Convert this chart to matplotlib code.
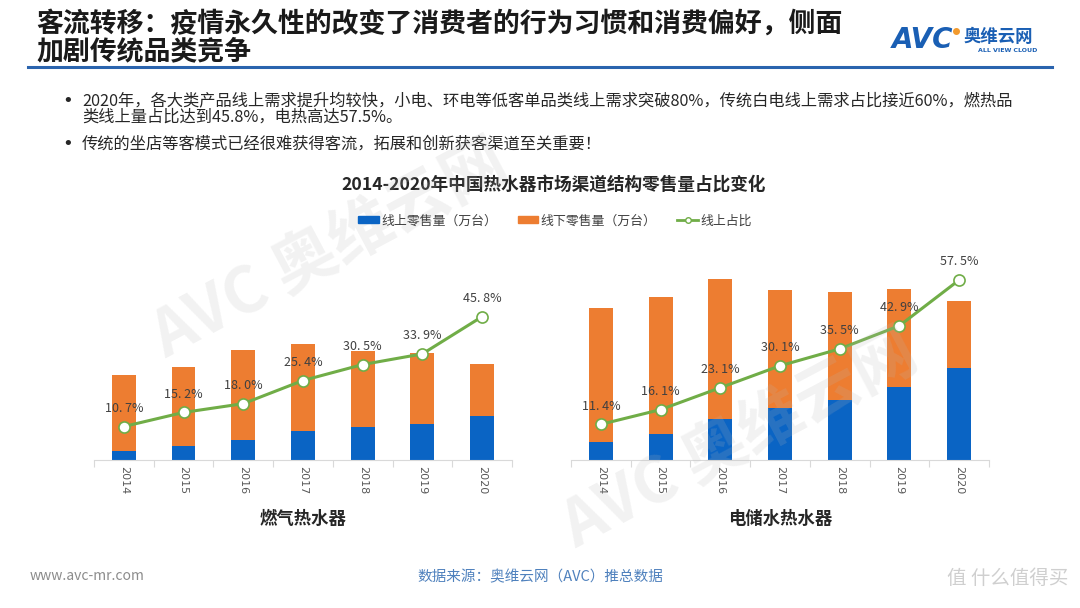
import matplotlib.pyplot as plt
from matplotlib.patches import Patch
from matplotlib.lines import Line2D

plt.rcParams['font.family'] = ['Noto Sans CJK SC', 'DejaVu Sans']

years = ['2014', '2015', '2016', '2017', '2018', '2019', '2020']

# 燃气热水器 (万台)
gas_online = [126, 196, 280, 406, 462, 504, 616]
gas_offline = [1064, 1106, 1260, 1218, 1064, 994, 728]
gas_share = [10.7, 15.2, 18.0, 25.4, 30.5, 33.9, 45.8]

# 电储水热水器
elec_online = [252, 364, 574, 728, 840, 1022, 1288]
elec_offline = [1876, 1918, 1960, 1652, 1512, 1372, 938]
elec_share = [11.4, 16.1, 23.1, 30.1, 35.5, 42.9, 57.5]

BLUE = '#0a64c4'
ORANGE = '#ed7d31'
GREEN = '#70ad47'

fig = plt.figure(figsize=(10.8, 6.08), dpi=100)


def px(x, y):
    return x / 1080, 1 - y / 608


def draw_panel(left, online, offline, share, name):
    ax = fig.add_axes([left, 0.2434, 0.3870, 0.5148])
    ax.set_facecolor('none')
    x = list(range(len(years)))
    ax.bar(x, online, width=0.4, color=BLUE, zorder=2)
    ax.bar(x, offline, width=0.4, bottom=online, color=ORANGE, zorder=2)
    ax.set_xlim(-0.5, 6.5)
    ax.set_ylim(0, 4382)
    for s in ['top', 'left', 'right']:
        ax.spines[s].set_visible(False)
    ax.spines['bottom'].set_color('#d9d9d9')
    ax.set_yticks([])
    ax.set_xticks([i - 0.5 for i in range(8)], minor=False)
    ax.set_xticklabels([])
    ax.tick_params(axis='x', which='major', length=5, color='#d9d9d9')
    for i, yr in enumerate(years):
        ax.text(i, -0.02, yr, transform=ax.get_xaxis_transform(), rotation=-90,
                ha='center', va='top', fontsize=8, color='#595959', family='DejaVu Sans')

    ax2 = ax.twinx()
    ax2.set_ylim(0, 100)
    ax2.axis('off')
    ax2.plot(x, share, color=GREEN, lw=2.2, marker='o', ms=8,
             markerfacecolor='white', markeredgecolor=GREEN, markeredgewidth=1.2, zorder=3)
    for i, v in enumerate(share):
        ax2.annotate(f'{v:.1f}%'.replace('.', '. '), (i, v), xytext=(0, 13),
                     textcoords='offset points', ha='center', va='center',
                     fontsize=9, color='#404040')
    ax.text(0.5, -0.19, name, transform=ax.transAxes, ha='center', va='center',
            fontsize=12.5, fontweight='bold', color='#262626')
    return ax


draw_panel(0.0870, gas_online, gas_offline, gas_share, '燃气热水器')
draw_panel(0.5287, elec_online, elec_offline, elec_share, '电储水热水器')

# faint watermarks laid over the whole slide
for (wx, wy) in [(330, 250), (740, 440)]:
    fig.text(*px(wx, wy), 'AVC 奥维云网', fontsize=46, fontweight='bold', color='#b8b8b8',
             alpha=0.18, rotation=28, ha='center', va='center', zorder=5)

# title
fig.text(*px(36, 24), '客流转移：疫情永久性的改变了消费者的行为习惯和消费偏好，侧面',
         fontsize=19.4, fontweight='bold', color='#1a1a1a', va='center')
fig.text(*px(36, 51), '加剧传统品类竞争',
         fontsize=19.4, fontweight='bold', color='#1a1a1a', va='center')
fig.add_artist(Line2D([28 / 1080, 1052 / 1080], [1 - 67 / 608] * 2, color='#2a64ae', lw=2.2))

# logo
fig.text(*px(892, 40), 'AVC', fontsize=20, fontweight='bold', color='#1a5fb4',
         va='center', family='DejaVu Sans', style='italic')
fig.add_artist(Line2D([956 / 1080], [1 - 31 / 608], marker='o', ms=4, color='#f29a2e', lw=0))
fig.text(*px(964, 37), '奥维云网', fontsize=12.5, fontweight='bold', color='#1a5fb4', va='center')
fig.text(*px(978, 51), 'ALL VIEW CLOUD', fontsize=4.5, fontweight='bold', color='#1a5fb4',
         va='center', family='DejaVu Sans')

# bullets
bullets = [
    (101, '2020年，各大类产品线上需求提升均较快，小电、环电等低客单品类线上需求突破80%，传统白电线上需求占比接近60%，燃热品'),
    (117, '类线上量占比达到45.8%，电热高达57.5%。'),
    (144, '传统的坐店等客模式已经很难获得客流，拓展和创新获客渠道至关重要！'),
]
for i, (yy, t) in enumerate(bullets):
    if i != 1:
        fig.text(*px(62, yy), '•', fontsize=13, color='#262626', va='center', family='DejaVu Sans')
    fig.text(*px(82, yy), t, fontsize=11.7, color='#262626', va='center')

# chart title and legend
fig.text(*px(554, 185), '2014-2020年中国热水器市场渠道结构零售量占比变化',
         fontsize=12.7, fontweight='bold', color='#262626', ha='center', va='center')
handles = [
    Patch(color=BLUE, label='线上零售量（万台）'),
    Patch(color=ORANGE, label='线下零售量（万台）'),
    Line2D([], [], color=GREEN, lw=2, marker='o', ms=4, markerfacecolor='white', label='线上占比'),
]
fig.legend(handles=handles, loc='center', bbox_to_anchor=px(555, 221), ncol=3, frameon=False,
           fontsize=9.3, handlelength=1.6, handleheight=0.45, handletextpad=0.2, columnspacing=1.6,
           labelcolor='#404040')

# footer
fig.text(*px(30, 576), 'www.avc-mr.com', fontsize=10, color='#8c8c8c', va='center')
fig.text(*px(540, 577), '数据来源：奥维云网（AVC）推总数据', fontsize=10.5, color='#4f81bd',
         ha='center', va='center')
fig.text(*px(1068, 578), '值 什么值得买', fontsize=14, color='#cfcfcf', ha='right', va='center')

fig.savefig('out.png', dpi=100)
